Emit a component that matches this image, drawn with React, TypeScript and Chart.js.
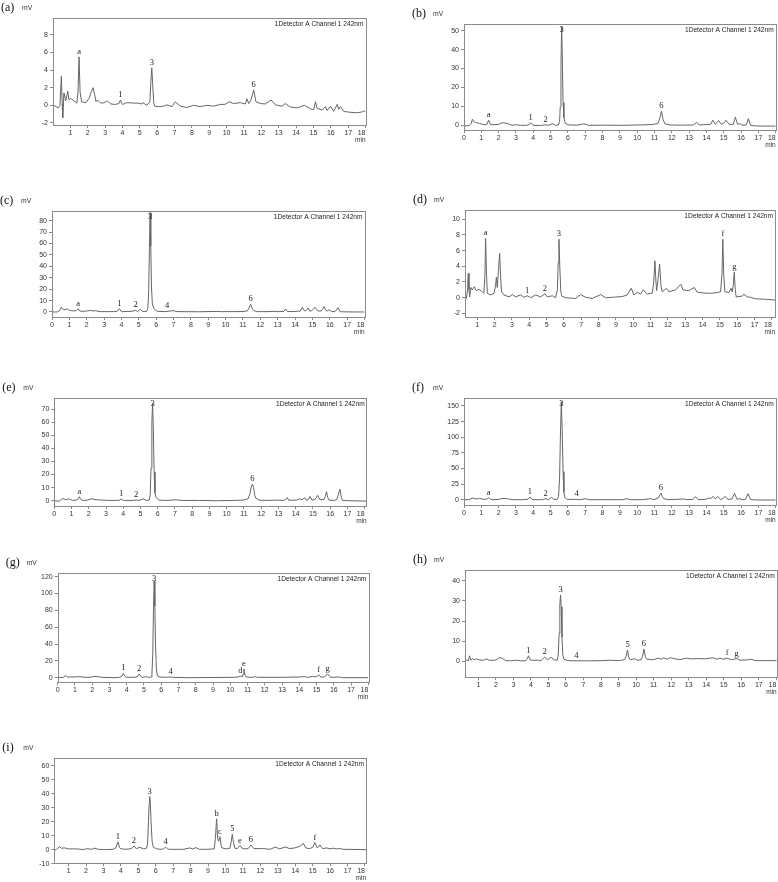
import React, { useEffect, useRef } from 'react';
import { Chart, registerables } from 'chart.js';
Chart.register(...registerables);

type Pt = [number, number];
type Lbl = [string, number, number];

// ---- (a) ----
const traceA: Pt[] = [[0,0.05],[0.31,-0.3],[0.40,0.0],[0.48,3.3],[0.53,0.2],[0.56,-1.4],[0.63,1.4],[0.73,0.5],[0.85,1.6],[0.92,0.6],[1.02,0.8],[1.27,0.4],[1.37,0.25],[1.44,1.5],[1.5,5.5],[1.56,1.5],[1.65,0.4],[1.9,0.3],[2.1,0.9],[2.22,1.6],[2.31,2.0],[2.4,1.2],[2.48,0.4],[2.56,0.6],[2.71,0.3],[2.9,0.25],[3.13,0.5],[3.33,0.15],[3.58,0.1],[3.8,0.2],[3.88,0.6],[3.96,0.2],[4.02,0.1],[4.25,0.3],[4.63,0.25],[4.87,0.25],[5.12,0.15],[5.17,0.3],[5.4,0.0],[5.58,0.4],[5.64,2.8],[5.69,4.25],[5.74,2.5],[5.8,0.3],[5.85,-0.1],[6.08,-0.15],[6.37,-0.1],[6.56,0.05],[6.85,-0.15],[7.04,0.4],[7.33,-0.1],[7.71,-0.25],[8.1,0.0],[8.48,-0.15],[8.87,0.0],[9.25,-0.1],[9.63,0.1],[9.9,0.1],[10.15,0.4],[10.4,0.2],[10.79,0.3],[11.08,0.15],[11.17,0.75],[11.27,0.2],[11.4,0.6],[11.56,1.75],[11.69,0.4],[11.94,0.2],[12.23,0.15],[12.56,0.6],[12.81,0.05],[13.19,-0.1],[13.38,0.2],[13.67,-0.2],[14.06,-0.3],[14.48,0.0],[14.83,-0.4],[15.02,-0.5],[15.12,0.4],[15.21,-0.35],[15.5,-0.55],[15.69,-0.15],[15.79,-0.6],[15.98,-0.1],[16.17,-0.7],[16.37,0.1],[16.46,-0.45],[16.56,-0.15],[16.75,-0.7],[17.13,-0.8],[17.52,-0.85],[17.81,-0.75],[17.9,-0.65],[18.0,-0.75]];
const labelsA: Lbl[] = [['a',1.5,5.5],['1',3.88,0.6],['3',5.69,4.25],['6',11.56,1.75]];
const yTicksA = [-2,0,2,4,6,8];

// ---- (b) ----
const traceB: Pt[] = [[0,-0.2],[0.3,-0.2],[0.42,1.0],[0.48,3.2],[0.6,1.8],[0.71,1.4],[0.9,1.0],[1.15,0.35],[1.32,0.4],[1.42,2.8],[1.52,0.5],[1.63,0.3],[2.0,0.5],[2.21,1.4],[2.5,1.0],[2.79,0.0],[2.95,0.35],[3.27,0.0],[3.56,0.0],[3.75,0.3],[3.85,1.4],[3.95,0.3],[4.04,0.0],[4.42,-0.1],[4.71,0.3],[4.9,0.0],[5.1,0.9],[5.29,0.0],[5.45,0.2],[5.52,2],[5.56,10],[5.6,32],[5.64,52],[5.68,34],[5.72,12],[5.77,4],[5.85,1.0],[6.06,0.2],[6.54,0.1],[6.92,0.8],[7.21,0.0],[8.17,0.1],[9.13,0.0],[10.1,0.2],[10.87,0.4],[11.2,1.0],[11.3,3.5],[11.4,7.5],[11.5,3.0],[11.6,0.8],[11.9,0.2],[12.5,0.1],[13.25,0.2],[13.44,1.5],[13.6,0.2],[14.0,0.4],[14.25,0.6],[14.37,2.7],[14.5,0.6],[14.71,2.5],[14.85,0.6],[15.0,1.0],[15.13,2.7],[15.3,0.6],[15.55,0.5],[15.67,4.3],[15.8,0.5],[15.92,1.0],[16.05,0.1],[16.3,0.2],[16.42,3.5],[16.55,0.0],[16.8,-0.3],[17.4,-0.4],[18.0,-0.4]];
const labelsB: Lbl[] = [['a',1.42,2.8],['1',3.85,1.4],['2',4.71,0.3],['3',5.64,52],['6',11.4,7.5]];
const yTicksB = [0,10,20,30,40,50];

// ---- (c) ----
const traceC: Pt[] = [[0,0],[0.3,0],[0.45,1.5],[0.53,4.1],[0.62,2.5],[0.67,2.3],[0.78,2.0],[0.87,2.9],[0.95,1.8],[1.06,1.2],[1.25,1.0],[1.4,1.2],[1.5,2.9],[1.6,0.8],[1.8,0.6],[2.05,0.9],[2.21,1.5],[2.35,0.8],[2.5,1.2],[2.65,0.6],[2.79,0.3],[3.2,0.3],[3.56,0.3],[3.78,0.8],[3.88,2.9],[3.98,0.6],[4.04,0.3],[4.62,0.6],[4.81,1.5],[4.92,0.4],[5.1,2.3],[5.2,0.6],[5.35,0.3],[5.46,0.6],[5.52,3],[5.57,18],[5.61,55],[5.65,87],[5.69,58],[5.73,22],[5.78,7],[5.87,2.9],[6.06,0.6],[6.5,0.3],[6.98,1.2],[7.2,0.3],[8.5,0.2],[9.5,0.5],[9.7,0.3],[10.5,0.3],[11.0,0.4],[11.25,0.9],[11.35,3.5],[11.44,6.7],[11.55,2.5],[11.63,1.2],[11.83,0.3],[12.5,0.3],[12.8,0.6],[12.98,0.3],[13.35,0.4],[13.46,2.6],[13.56,0.4],[13.9,0.4],[14.13,0.6],[14.3,0.8],[14.42,4.1],[14.54,1.0],[14.62,1.2],[14.75,3.5],[14.85,0.8],[14.95,1.0],[15.15,4.1],[15.3,1.0],[15.5,0.8],[15.67,4.7],[15.78,1.2],[15.88,1.0],[15.96,2.0],[16.1,0.4],[16.3,0.3],[16.48,3.8],[16.6,0.2],[17.0,0.1],[17.5,0.0],[18.0,0.0]];
const labelsC: Lbl[] = [['a',1.5,2.9],['1',3.88,2.9],['2',4.81,1.5],['3',5.65,87],['4',6.63,0.8],['6',11.44,6.7]];
const yTicksC = [0,10,20,30,40,50,60,70,80];

// ---- (d) ----
const traceD: Pt[] = [[0.29,0.0],[0.37,-0.1],[0.44,1.0],[0.48,3.1],[0.52,1.0],[0.56,0.1],[0.63,1.3],[0.71,1.0],[0.83,1.4],[0.94,0.9],[1.1,1.05],[1.29,0.75],[1.38,0.55],[1.44,3.0],[1.48,7.55],[1.53,3.0],[1.58,0.55],[1.77,0.35],[1.96,0.55],[2.05,1.5],[2.1,2.6],[2.15,1.3],[2.22,3.5],[2.29,5.65],[2.35,2.5],[2.4,0.75],[2.54,0.35],[2.83,0.1],[3.02,0.4],[3.21,0.1],[3.5,0.35],[3.69,0.05],[3.88,0.25],[4.08,0.0],[4.37,0.35],[4.65,0.1],[4.9,0.5],[5.04,0.1],[5.33,0.25],[5.52,0.0],[5.62,1.0],[5.67,4.5],[5.71,7.45],[5.76,4.0],[5.82,0.8],[5.87,0.2],[6.1,0.0],[6.67,-0.1],[6.96,0.4],[7.25,0.05],[7.63,-0.1],[8.12,0.4],[8.4,0.0],[8.79,0.05],[9.37,0.15],[9.65,0.35],[9.88,1.2],[10.04,0.35],[10.23,0.7],[10.42,0.45],[10.58,1.0],[10.81,0.45],[11.1,0.6],[11.18,2.0],[11.25,4.7],[11.31,2.0],[11.35,0.9],[11.44,2.5],[11.52,4.3],[11.6,1.5],[11.67,0.75],[11.92,1.2],[12.06,0.75],[12.44,1.0],[12.75,1.7],[12.87,1.0],[13.21,0.9],[13.52,1.3],[13.69,0.7],[14.08,0.6],[14.46,0.55],[14.85,0.65],[15.04,0.75],[15.12,3.0],[15.17,7.45],[15.22,3.0],[15.29,0.75],[15.52,0.65],[15.65,1.2],[15.71,0.75],[15.77,1.5],[15.83,3.25],[15.88,1.2],[15.94,0.1],[16.29,0.2],[16.38,0.45],[16.58,0.1],[16.77,0.05],[17.06,-0.15],[17.63,-0.2],[18.18,-0.3]];
const labelsD: Lbl[] = [['a',1.48,7.55],['1',3.88,0.25],['2',4.9,0.5],['3',5.71,7.45],['f',15.17,7.45],['g',15.83,3.25]];
const yTicksD = [-2,0,2,4,6,8,10];

// ---- (e) ----
const traceE: Pt[] = [[0,0],[0.29,-0.25],[0.48,1.8],[0.68,0.75],[0.83,1.5],[1.07,0.25],[1.26,0.5],[1.36,1.0],[1.45,3.05],[1.55,0.8],[1.65,0.25],[1.94,0.5],[2.13,1.5],[2.42,0.75],[2.81,0.5],[3.2,0.25],[3.59,0.25],[3.8,0.5],[3.88,1.5],[3.96,0.4],[4.07,0.25],[4.55,0.25],[4.75,0.5],[4.94,0.25],[5.14,1.5],[5.33,0.25],[5.5,0.5],[5.56,4],[5.61,25],[5.66,60],[5.7,74],[5.74,58],[5.79,22],[5.84,6],[5.9,2.5],[6.07,0.5],[6.49,0.25],[7.07,0.75],[7.36,0.25],[8.43,0.25],[9.4,0.0],[10.37,0.25],[10.95,0.5],[11.24,1.5],[11.34,5],[11.42,10.5],[11.49,12.7],[11.56,10],[11.63,4],[11.69,2.0],[11.88,0.5],[12.31,0.25],[12.89,0.5],[13.28,0.25],[13.42,0.8],[13.51,2.5],[13.6,0.4],[14.05,0.5],[14.24,1.5],[14.36,0.8],[14.53,2.3],[14.62,0.4],[14.73,0.8],[14.83,3.3],[14.95,0.5],[15.12,1.0],[15.27,4.1],[15.4,0.8],[15.64,1.0],[15.72,3.5],[15.79,6.9],[15.86,2.5],[15.93,0.5],[16.18,0.25],[16.38,0.8],[16.47,4.5],[16.57,8.9],[16.64,3],[16.71,0.25],[17.15,0.0],[18.12,-0.25]];
const labelsE: Lbl[] = [['a',1.45,3.05],['1',3.88,1.5],['2',4.75,0.5],['3',5.7,74],['6',11.49,12.7]];
const yTicksE = [0,10,20,30,40,50,60,70];

// ---- (f) ----
const traceF: Pt[] = [[0,0],[0.29,0],[0.48,2.7],[0.71,1.1],[0.9,2.1],[1.15,0.5],[1.3,0.8],[1.42,3.2],[1.55,0.5],[1.63,0],[2.02,0.5],[2.21,2.1],[2.5,1.6],[2.79,0],[3.37,0],[3.7,0.8],[3.81,4.3],[3.92,0.8],[3.98,0],[4.52,0],[4.71,1.6],[4.87,0],[5.06,3.7],[5.2,0.5],[5.38,0.5],[5.46,5],[5.52,35],[5.57,105],[5.62,157],[5.67,112],[5.72,45],[5.77,12],[5.82,4],[5.9,1.5],[5.96,0.5],[6.44,0.5],[6.73,0],[7.02,1.6],[7.21,0],[8.17,0],[9.13,0],[9.42,1.6],[9.62,0],[10.29,0],[10.77,1.6],[10.96,0],[11.21,2.7],[11.3,7],[11.37,10.7],[11.45,5],[11.54,1.6],[11.83,0],[12.69,1.1],[12.88,0],[13.21,0.5],[13.37,4.8],[13.52,0],[13.94,0.5],[14.13,2.7],[14.25,1.5],[14.37,5.3],[14.52,1.1],[14.65,5.3],[14.81,0.5],[14.95,1.5],[15.06,5.3],[15.25,0.5],[15.48,1.1],[15.62,10.1],[15.77,0.5],[15.92,1.6],[16.1,0],[16.25,0.5],[16.4,9.6],[16.56,0],[17.02,-0.5],[18.0,-0.5]];
const labelsF: Lbl[] = [['a',1.42,3.2],['1',3.81,4.3],['2',4.71,1.6],['3',5.62,157],['4',6.5,0.5],['6',11.37,10.7]];
const yTicksF = [0,25,50,75,100,125,150];

// ---- (g) ----
const traceG: Pt[] = [[0,0],[0.33,0.4],[0.46,2.4],[0.58,0.8],[0.91,0.8],[1.29,1.2],[1.58,0.4],[1.87,0.4],[2.16,1.6],[2.35,1.2],[2.54,0.4],[3.22,0],[3.6,0.4],[3.72,2],[3.8,5.1],[3.9,1.5],[3.99,0.4],[4.47,0.4],[4.64,1.5],[4.72,4.4],[4.82,1.2],[4.91,0.4],[5.09,1.2],[5.28,0.4],[5.41,0.8],[5.46,4],[5.51,28],[5.55,80],[5.59,115],[5.63,85],[5.67,38],[5.72,10],[5.78,2],[5.92,0.8],[6.3,0.4],[6.53,0.8],[6.69,0.4],[7.46,0],[9.0,0.2],[10.15,0.4],[10.44,0.8],[10.58,2.0],[10.69,0.8],[10.74,4],[10.79,10.2],[10.85,3],[10.92,0.8],[11.31,0.4],[11.41,1.2],[11.6,0.4],[13.04,0.4],[14.01,0.8],[14.3,1.2],[14.49,0.4],[14.78,1.6],[14.97,0.8],[15.13,3.2],[15.26,0.8],[15.45,0.8],[15.65,4.4],[15.8,0.4],[16.32,0.8],[16.51,0],[18.0,0]];
const labelsG: Lbl[] = [['1',3.8,5.1],['2',4.72,4.4],['3',5.59,115],['4',6.55,0.8],['d',10.58,2.0],['e',10.79,10.2],['f',15.13,3.2],['g',15.65,4.4]];
const yTicksG = [0,20,40,60,80,100,120];

// ---- (h) ----
const traceH: Pt[] = [[0.24,-0.2],[0.33,0.7],[0.43,0.2],[0.5,2.7],[0.58,0.5],[0.66,1.3],[0.77,0.7],[0.89,1.2],[1.04,0.7],[1.32,0.5],[1.46,1.2],[1.61,0.5],[1.95,0.5],[2.1,1.0],[2.18,1.8],[2.37,1.5],[2.56,0.3],[2.85,0.2],[3.14,0.5],[3.42,0.2],[3.71,0.3],[3.78,0.9],[3.86,2.7],[3.95,0.8],[4.05,0.5],[4.38,0.5],[4.57,0.3],[4.78,2.0],[4.95,0.7],[5.14,2.0],[5.33,0.7],[5.5,0.5],[5.56,3],[5.61,14],[5.65,28],[5.69,33],[5.73,27],[5.77,12],[5.82,3],[5.88,1.0],[6.1,0.3],[6.57,0.2],[7.34,0.2],[8.1,0.3],[8.48,0.5],[9.05,0.3],[9.34,0.8],[9.43,2.5],[9.51,5.6],[9.58,2.0],[9.66,0.7],[9.91,1.2],[10.1,0.5],[10.29,0.7],[10.37,2.5],[10.45,6.0],[10.53,2.0],[10.62,1.0],[10.96,0.7],[11.25,1.5],[11.44,1.0],[11.57,1.7],[11.76,1.0],[11.95,1.8],[12.2,1.2],[12.49,0.8],[12.87,1.5],[13.16,1.2],[13.54,1.3],[13.92,1.2],[14.4,1.7],[14.59,1.0],[14.78,1.5],[14.97,1.0],[15.2,1.5],[15.45,0.7],[15.73,1.3],[15.92,0.5],[16.4,0.7],[16.59,1.0],[16.78,0.3],[17.26,0.3],[18.02,0.3]];
const labelsH: Lbl[] = [['1',3.86,2.7],['2',4.78,2.0],['3',5.69,33],['4',6.6,0.3],['5',9.51,5.6],['6',10.45,6.0],['f',15.2,1.5],['g',15.73,1.3]];
const yTicksH = [0,10,20,30,40];

// ---- (i) ----
const traceI: Pt[] = [[0.18,-0.5],[0.31,0.2],[0.46,2.1],[0.6,1.0],[0.79,1.2],[0.98,0.5],[1.46,0.5],[1.84,0],[2.07,0.7],[2.32,0.2],[2.51,1.0],[2.7,0.2],[3.18,0],[3.56,0.2],[3.72,1.5],[3.83,5.5],[3.92,1.5],[3.98,0.7],[4.23,0.2],[4.52,0.5],[4.65,1.2],[4.75,2.6],[4.85,1.0],[4.9,0.7],[5.09,1.7],[5.28,0.5],[5.47,1.0],[5.53,4],[5.58,20],[5.62,33],[5.65,37.9],[5.69,33],[5.73,20],[5.79,6],[5.86,1.7],[6.05,0.5],[6.33,0.2],[6.45,0.6],[6.56,1.7],[6.67,0.6],[6.77,0.2],[7.58,0.2],[7.96,1.2],[8.11,0.5],[8.3,1.4],[8.5,0.2],[8.9,0.2],[9.35,0.5],[9.42,8],[9.49,22],[9.55,8],[9.6,6],[9.68,9.3],[9.75,3],[9.8,1.2],[10.05,0.5],[10.25,1.0],[10.32,5],[10.39,11],[10.46,5],[10.54,1.0],[10.68,0.7],[10.83,2.9],[10.98,0.5],[11.3,0.7],[11.46,3.3],[11.63,0.7],[12.17,0.7],[12.55,0.2],[12.89,1.9],[13.08,0.5],[13.47,1.9],[13.66,0.7],[13.98,1.2],[14.27,2.4],[14.46,4.5],[14.61,1.2],[14.8,0.7],[15.0,1.5],[15.13,5.0],[15.26,1.2],[15.42,3.3],[15.57,0.7],[15.8,1.2],[15.99,0.5],[16.18,1.0],[16.37,0.5],[16.56,0.7],[16.76,0.2],[18.06,0]];
const labelsI: Lbl[] = [['1',3.83,5.5],['2',4.75,2.6],['3',5.65,37.9],['4',6.56,1.7],['b',9.49,22],['c',9.68,9.3],['5',10.39,11],['e',10.83,2.9],['6',11.46,3.3],['f',15.13,5.0]];
const yTicksI = [-10,0,10,20,30,40,50,60];

const detectorTitle = '1Detector A Channel 1 242nm';
const yUnit = 'mV';
const xUnit = 'min';

interface PanelCfg {
  name: string; trace: Pt[]; labels: Lbl[]; yTicks: number[]; xFirst: number;
  col: number; L: number; T: number; R: number; B: number;
  xMin: number; xMax: number; yMin: number; yMax: number;
}

const panels: PanelCfg[] = [
  { name: '(a)', trace: traceA, labels: labelsA, yTicks: yTicksA, xFirst: 1, col: 0, L: 53, T: 18, R: 365.5, B: 125, xMin: 0, xMax: 18, yMin: -2.24, yMax: 9.92 },
  { name: '(b)', trace: traceB, labels: labelsB, yTicks: yTicksB, xFirst: 0, col: 1, L: 464, T: 24, R: 775.7, B: 130, xMin: 0, xMax: 18, yMin: -2.46, yMax: 53.5 },
  { name: '(c)', trace: traceC, labels: labelsC, yTicks: yTicksC, xFirst: 0, col: 0, L: 52, T: 211, R: 364.5, B: 317, xMin: 0, xMax: 18, yMin: -4.4, yMax: 88.5 },
  { name: '(d)', trace: traceD, labels: labelsD, yTicks: yTicksD, xFirst: 1, col: 1, L: 465, T: 210, R: 775, B: 317, xMin: 0.29, xMax: 18.18, yMin: -2.46, yMax: 11.17 },
  { name: '(e)', trace: traceE, labels: labelsE, yTicks: yTicksE, xFirst: 0, col: 0, L: 54.3, T: 398, R: 366.7, B: 506, xMin: 0, xMax: 18.12, yMin: -4, yMax: 78.4 },
  { name: '(f)', trace: traceF, labels: labelsF, yTicks: yTicksF, xFirst: 0, col: 1, L: 464, T: 398, R: 775.7, B: 505, xMin: 0, xMax: 18, yMin: -8.5, yMax: 162.8 },
  { name: '(g)', trace: traceG, labels: labelsG, yTicks: yTicksG, xFirst: 0, col: 0, L: 57.7, T: 573, R: 368.3, B: 682.3, xMin: 0, xMax: 18, yMin: -5.5, yMax: 124.4 },
  { name: '(h)', trace: traceH, labels: labelsH, yTicks: yTicksH, xFirst: 1, col: 1, L: 465, T: 570, R: 776.7, B: 677.3, xMin: 0.24, xMax: 18.02, yMin: -8, yMax: 45.4 },
  { name: '(i)', trace: traceI, labels: labelsI, yTicks: yTicksI, xFirst: 1, col: 0, L: 54.3, T: 758, R: 366, B: 863.3, xMin: 0.18, xMax: 18.06, yMin: -9.8, yMax: 65.5 },
];

const SANS = '"Liberation Sans", Arial, sans-serif';
const SERIF = '"Liberation Serif", "Times New Roman", serif';

function Panel({ p }: { p: PanelCfg }) {
  const ref = useRef<HTMLCanvasElement>(null);
  const cx = p.col ? 389 : 0;
  const cw = 389;
  const cy = Math.max(0, Math.round(p.T - 18));
  const ch = Math.round(p.B + 22 - cy);

  useEffect(() => {
    const canvas = ref.current;
    if (!canvas) return;
    const xTickVals: number[] = [p.xMin - 0.001];
    for (let v = p.xFirst; v <= p.xMax + 1e-9; v++) xTickVals.push(v);

    const overlay = {
      id: 'overlay' + p.name,
      afterDraw(chart: any) {
        const ctx = chart.ctx as CanvasRenderingContext2D;
        const a = chart.chartArea;
        const xs = chart.scales.x;
        const ys = chart.scales.y;
        ctx.save();
        ctx.strokeStyle = '#8a8a8a';
        ctx.lineWidth = 1;
        ctx.strokeRect(Math.round(a.left) + 0.5, Math.round(a.top) + 0.5, Math.round(a.right - a.left), Math.round(a.bottom - a.top));
        ctx.fillStyle = '#222';
        ctx.font = '6.6px ' + SANS;
        ctx.textAlign = 'right';
        ctx.textBaseline = 'top';
        ctx.fillText(detectorTitle, a.right - 2, a.top + 3);
        ctx.font = '8.5px ' + SERIF;
        ctx.textAlign = 'center';
        ctx.textBaseline = 'alphabetic';
        ctx.fillStyle = '#222';
        for (const [txt, t, v] of p.labels) {
          const x = xs.getPixelForValue(t);
          const y = Math.max(ys.getPixelForValue(v) - 3, a.top + 8);
          ctx.fillText(txt, x, y);
        }
        ctx.font = '12px ' + SERIF;
        ctx.textAlign = 'left';
        ctx.textBaseline = 'middle';
        ctx.fillStyle = '#111';
        ctx.fillText(p.name, a.left - 52, a.top - 10);
        ctx.font = '6.8px ' + SANS;
        ctx.fillStyle = '#333';
        ctx.fillText(yUnit, a.left - 31, a.top - 10);
        ctx.textAlign = 'right';
        ctx.font = '6.5px ' + SANS;
        ctx.fillText(xUnit, a.right, a.bottom + 15);
        ctx.restore();
      },
    };

    const chart = new Chart(canvas, {
      type: 'line',
      data: {
        datasets: [{
          data: p.trace.map(([x, y]) => ({ x, y })),
          borderColor: '#666',
          borderWidth: 1,
          pointRadius: 0,
          tension: 0,
          fill: false,
        }],
      },
      options: {
        responsive: false,
        maintainAspectRatio: false,
        animation: false,
        devicePixelRatio: 1,
        layout: { padding: { left: 0, top: p.T - cy, right: cw - (p.R - cx), bottom: 0 } },
        plugins: { legend: { display: false }, tooltip: { enabled: false }, title: { display: false } },
        scales: {
          x: {
            type: 'linear',
            min: p.xMin,
            max: p.xMax,
            afterBuildTicks: (s: any) => { s.ticks = xTickVals.map((v) => ({ value: v })); },
            afterFit: (s: any) => { s.height = ch - (p.B - cy); s.paddingLeft = 0; s.paddingRight = 0; },
            ticks: {
              autoSkip: false, maxRotation: 0, minRotation: 0, align: 'inner', padding: 1,
              color: '#333', font: { size: 7, family: SANS },
              callback: (v: any) => (Number.isInteger(v) ? String(v) : ''),
            },
            grid: {
              display: true, drawOnChartArea: false, drawTicks: true, tickLength: 3,
              color: (c: any) => (c.tick && Number.isInteger(c.tick.value) ? '#8a8a8a' : 'rgba(0,0,0,0)'),
            },
            border: { display: false },
          },
          y: {
            type: 'linear',
            min: p.yMin,
            max: p.yMax,
            afterBuildTicks: (s: any) => { s.ticks = p.yTicks.map((v) => ({ value: v })); },
            afterFit: (s: any) => { s.width = p.L - cx; s.paddingTop = 0; s.paddingBottom = 0; },
            ticks: { autoSkip: false, padding: 2, color: '#333', font: { size: 7, family: SANS } },
            grid: { display: true, drawOnChartArea: false, drawTicks: true, tickLength: 3, color: '#8a8a8a' },
            border: { display: false },
          },
        },
      } as any,
      plugins: [overlay],
    });
    return () => chart.destroy();
  }, []);

  return (
    <canvas
      ref={ref}
      width={cw}
      height={ch}
      style={{ position: 'absolute', left: cx, top: cy, width: cw, height: ch }}
    />
  );
}

export default function App() {
  return (
    <div style={{ position: 'absolute', left: 0, top: 0, width: 778, height: 882, overflow: 'hidden', background: '#fff' }}>
      {panels.map((p) => (
        <Panel key={p.name} p={p} />
      ))}
    </div>
  );
}
